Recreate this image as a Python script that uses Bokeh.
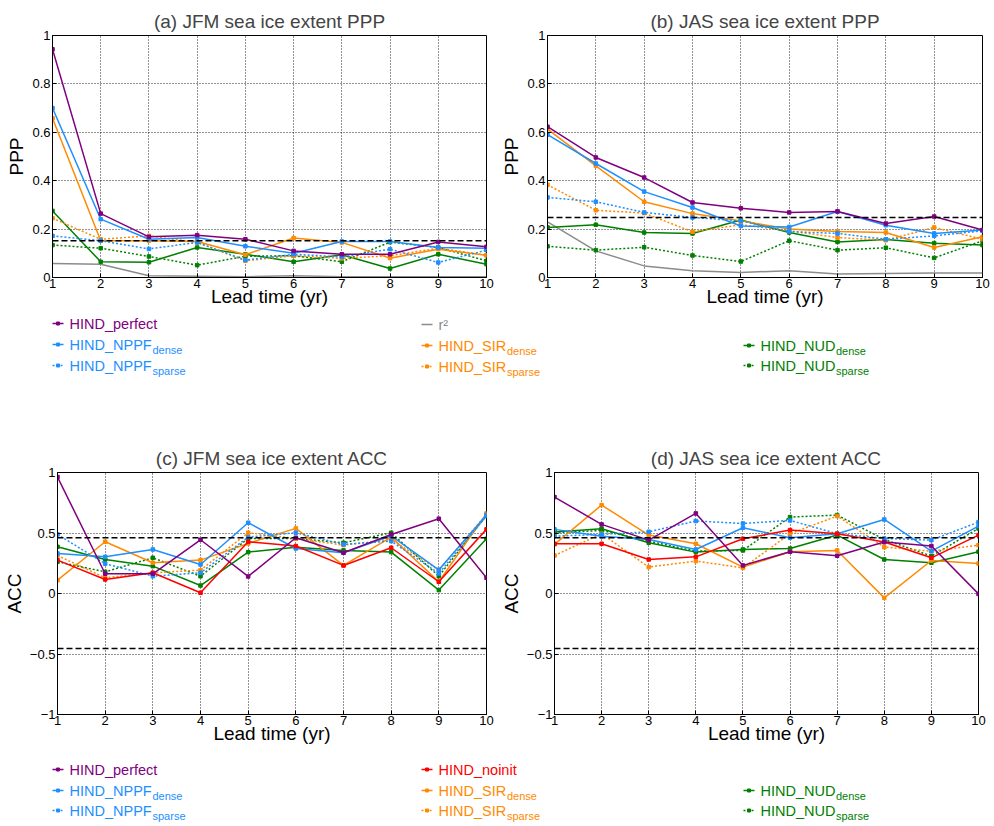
from bokeh.plotting import figure
from bokeh.layouts import column, row
from bokeh.models import Range1d, FixedTicker, Span
from bokeh.embed import file_html
from bokeh.resources import INLINE

FONT = "Liberation Sans"

lead = [1, 2, 3, 4, 5, 6, 7, 8, 9, 10]
x_ticks = [1, 2, 3, 4, 5, 6, 7, 8, 9, 10]
ppp_ticks = [0, 0.2, 0.4, 0.6, 0.8, 1]
ppp_tick_labels = {0: "0", 0.2: "0.2", 0.4: "0.4", 0.6: "0.6", 0.8: "0.8", 1: "1"}
acc_ticks = [-1, -0.5, 0, 0.5, 1]
acc_tick_labels = {-1: "\u22121", -0.5: "\u22120.5", 0: "0", 0.5: "0.5", 1: "1"}

# (a) JFM sea ice extent PPP
a_perfect = [0.943, 0.264, 0.168, 0.175, 0.158, 0.110, 0.096, 0.096, 0.147, 0.127]
a_nppf_dense = [0.700, 0.241, 0.158, 0.165, 0.129, 0.100, 0.149, 0.149, 0.124, 0.121]
a_nppf_sparse = [0.172, 0.152, 0.118, 0.145, 0.072, 0.096, 0.085, 0.117, 0.062, 0.113]
a_sir_dense = [0.658, 0.152, 0.152, 0.149, 0.094, 0.163, 0.145, 0.080, 0.117, 0.092]
a_sir_sparse = [0.245, 0.158, 0.172, 0.145, 0.069, 0.090, 0.079, 0.090, 0.121, 0.092]
a_nud_dense = [0.275, 0.065, 0.063, 0.124, 0.096, 0.065, 0.094, 0.037, 0.096, 0.055]
a_nud_sparse = [0.134, 0.121, 0.087, 0.051, 0.088, 0.090, 0.065, 0.146, 0.124, 0.069]
a_r2 = [0.058, 0.055, 0.007, 0.005, 0.003, 0.007, 0.003, 0.003, 0.003, 0.003]
a_thresh = [0.152]

# (b) JAS sea ice extent PPP
b_perfect = [0.623, 0.496, 0.413, 0.310, 0.286, 0.269, 0.273, 0.223, 0.252, 0.196]
b_nppf_dense = [0.590, 0.471, 0.355, 0.289, 0.213, 0.209, 0.273, 0.216, 0.182, 0.196]
b_nppf_sparse = [0.331, 0.313, 0.269, 0.248, 0.234, 0.190, 0.182, 0.158, 0.172, 0.193]
b_sir_dense = [0.613, 0.461, 0.313, 0.264, 0.234, 0.200, 0.190, 0.186, 0.124, 0.168]
b_sir_sparse = [0.383, 0.278, 0.266, 0.189, 0.218, 0.193, 0.165, 0.154, 0.207, 0.158]
b_nud_dense = [0.207, 0.218, 0.186, 0.182, 0.238, 0.186, 0.147, 0.157, 0.142, 0.134]
b_nud_sparse = [0.129, 0.113, 0.125, 0.091, 0.066, 0.152, 0.113, 0.123, 0.081, 0.152]
b_r2 = [0.230, 0.110, 0.048, 0.028, 0.021, 0.028, 0.014, 0.017, 0.019, 0.019]
b_thresh = [0.248]

# (c) JFM sea ice extent ACC
c_perfect = [0.963, 0.163, 0.163, 0.444, 0.141, 0.461, 0.337, 0.488, 0.618, 0.130]
c_nppf_dense = [0.331, 0.303, 0.364, 0.240, 0.585, 0.372, 0.337, 0.477, 0.196, 0.648]
c_nppf_sparse = [0.488, 0.246, 0.143, 0.171, 0.466, 0.502, 0.406, 0.433, 0.166, 0.640]
c_sir_dense = [0.110, 0.428, 0.254, 0.276, 0.414, 0.538, 0.232, 0.466, 0.097, 0.662]
c_sir_sparse = [0.314, 0.130, 0.171, 0.193, 0.502, 0.455, 0.400, 0.447, 0.193, 0.654]
c_nud_dense = [0.386, 0.281, 0.226, 0.066, 0.342, 0.383, 0.356, 0.342, 0.028, 0.452]
c_nud_sparse = [0.262, 0.179, 0.295, 0.143, 0.455, 0.455, 0.419, 0.502, 0.143, 0.645]
c_noinit = [0.276, 0.116, 0.171, 0.006, 0.428, 0.392, 0.232, 0.378, 0.097, 0.530]
c_thresh = [0.461, -0.455]

# (d) JAS sea ice extent ACC
d_perfect = [0.797, 0.571, 0.441, 0.662, 0.232, 0.345, 0.312, 0.425, 0.392, -0.003]
d_nppf_dense = [0.530, 0.474, 0.447, 0.364, 0.543, 0.461, 0.494, 0.612, 0.350, 0.557]
d_nppf_sparse = [0.474, 0.488, 0.510, 0.599, 0.579, 0.604, 0.494, 0.455, 0.441, 0.590]
d_sir_dense = [0.406, 0.731, 0.483, 0.411, 0.218, 0.345, 0.356, -0.036, 0.273, 0.248]
d_sir_sparse = [0.314, 0.494, 0.218, 0.268, 0.212, 0.494, 0.640, 0.383, 0.350, 0.400]
d_nud_dense = [0.508, 0.535, 0.419, 0.342, 0.364, 0.372, 0.483, 0.281, 0.254, 0.345]
d_nud_sparse = [0.502, 0.521, 0.433, 0.350, 0.356, 0.632, 0.648, 0.447, 0.309, 0.538]
d_noinit = [0.411, 0.411, 0.281, 0.303, 0.452, 0.524, 0.494, 0.425, 0.295, 0.483]
d_thresh = [0.461, -0.455]

PURPLE = "#800080"
BLUE = "#1E8FFF"
ORANGE = "#FF8A00"
GREEN = "#008000"
RED = "#FF0000"
GRAY = "#8C8C8C"

# style per series key: (color, dash, markers)
STYLE = {
    "r2": (GRAY, "solid", False),
    "nud_sparse": (GREEN, "2 2", True),
    "nud_dense": (GREEN, "solid", True),
    "sir_sparse": (ORANGE, "2 2", True),
    "sir_dense": (ORANGE, "solid", True),
    "nppf_sparse": (BLUE, "2 2", True),
    "nppf_dense": (BLUE, "solid", True),
    "noinit": (RED, "solid", True),
    "perfect": (PURPLE, "solid", True),
}


def panel(title, ylabel, yr, yticks, ylabels, series, thresholds, w, h, bl, br, bt, bb):
    p = figure(width=w, height=h, x_range=Range1d(1, 10), y_range=Range1d(*yr),
               output_backend="svg", toolbar_location=None,
               min_border_left=bl, min_border_right=br, min_border_top=bt, min_border_bottom=bb)
    p.title.text = title
    p.title.align = "center"
    p.title.text_font = FONT
    p.title.text_font_size = "19px"
    p.title.text_font_style = "normal"
    p.title.standoff = 7
    p.outline_line_color = "black"
    p.outline_line_width = 1
    p.outline_line_alpha = 1
    p.background_fill_color = "white"
    p.border_fill_color = "white"
    for ax in (p.xaxis[0], p.yaxis[0]):
        ax.axis_line_color = "black"
        ax.major_tick_in = 4
        ax.major_tick_out = 0
        ax.minor_tick_line_color = None
        ax.major_label_text_font = FONT
        ax.major_label_text_font_size = "13px"
        ax.major_label_text_color = "black"
        ax.axis_label_text_font = FONT
        ax.axis_label_text_font_size = "19px"
        ax.axis_label_text_font_style = "normal"
        ax.axis_label_text_color = "black"
        ax.major_label_standoff = 2
        ax.axis_label_standoff = 2
    p.xaxis.major_label_standoff = 1
    p.xaxis.axis_label_standoff = -5
    p.xaxis.ticker = FixedTicker(ticks=x_ticks)
    p.yaxis.ticker = FixedTicker(ticks=yticks)
    p.yaxis.major_label_overrides = ylabels
    p.xaxis.axis_label = "Lead time (yr)"
    p.yaxis.axis_label = ylabel
    p.grid.grid_line_color = "black"
    p.grid.grid_line_alpha = 0.85
    p.grid.grid_line_dash = "1 2"
    p.grid.grid_line_width = 1
    for t in thresholds:
        p.add_layout(Span(location=t, dimension="width", line_color="black",
                          line_dash="6 3", line_width=1.6))
    for key in STYLE:
        if key not in series:
            continue
        color, dash, mk = STYLE[key]
        vals = series[key]
        p.line(lead, vals, line_color=color, line_dash=dash, line_width=1.5)
        if mk:
            p.scatter(lead, vals, marker="square", size=3.5, color=color)
    return p


pa = panel("(a) JFM sea ice extent PPP", "PPP", (0, 1), ppp_ticks, ppp_tick_labels,
           {"perfect": a_perfect, "nppf_dense": a_nppf_dense, "nppf_sparse": a_nppf_sparse,
            "sir_dense": a_sir_dense, "sir_sparse": a_sir_sparse, "nud_dense": a_nud_dense,
            "nud_sparse": a_nud_sparse, "r2": a_r2}, a_thresh,
           497, 310, 52, 11, 35, 33)
pb = panel("(b) JAS sea ice extent PPP", "PPP", (0, 1), ppp_ticks, ppp_tick_labels,
           {"perfect": b_perfect, "nppf_dense": b_nppf_dense, "nppf_sparse": b_nppf_sparse,
            "sir_dense": b_sir_dense, "sir_sparse": b_sir_sparse, "nud_dense": b_nud_dense,
            "nud_sparse": b_nud_sparse, "r2": b_r2}, b_thresh,
           497, 310, 50, 12, 35, 33)
pc = panel("(c) JFM sea ice extent ACC", "ACC", (-1, 1), acc_ticks, acc_tick_labels,
           {"perfect": c_perfect, "nppf_dense": c_nppf_dense, "nppf_sparse": c_nppf_sparse,
            "sir_dense": c_sir_dense, "sir_sparse": c_sir_sparse, "nud_dense": c_nud_dense,
            "nud_sparse": c_nud_sparse, "noinit": c_noinit}, c_thresh,
           497, 310, 52, 11, 32, 36)
pd_ = panel("(d) JAS sea ice extent ACC", "ACC", (-1, 1), acc_ticks, acc_tick_labels,
            {"perfect": d_perfect, "nppf_dense": d_nppf_dense, "nppf_sparse": d_nppf_sparse,
             "sir_dense": d_sir_dense, "sir_sparse": d_sir_sparse, "nud_dense": d_nud_dense,
             "nud_sparse": d_nud_sparse, "noinit": d_noinit}, d_thresh,
            497, 310, 48, 16, 32, 36)

# legend entries: (key, main text, subscript, column x, row y)
legend_top = [
    ("perfect", "HIND_perfect", "", 52, 13),
    ("nppf_dense", "HIND_NPPF", "dense", 52, 34),
    ("nppf_sparse", "HIND_NPPF", "sparse", 52, 55),
    ("r2", "r\u00b2", "", 421, 14),
    ("sir_dense", "HIND_SIR", "dense", 421, 35),
    ("sir_sparse", "HIND_SIR", "sparse", 421, 56),
    ("nud_dense", "HIND_NUD", "dense", 743, 35),
    ("nud_sparse", "HIND_NUD", "sparse", 743, 55),
]
legend_bottom = [
    ("perfect", "HIND_perfect", "", 52, 19),
    ("nppf_dense", "HIND_NPPF", "dense", 52, 40),
    ("nppf_sparse", "HIND_NPPF", "sparse", 52, 60),
    ("noinit", "HIND_noinit", "", 421, 19),
    ("sir_dense", "HIND_SIR", "dense", 421, 40),
    ("sir_sparse", "HIND_SIR", "sparse", 421, 60),
    ("nud_dense", "HIND_NUD", "dense", 743, 40),
    ("nud_sparse", "HIND_NUD", "sparse", 743, 60),
]
MAIN_WIDTH = {"HIND_NPPF": 82.5, "HIND_SIR": 68, "HIND_NUD": 75}


def legend_fig(entries, h):
    p = figure(width=994, height=h, x_range=Range1d(0, 994), y_range=Range1d(h, 0),
               output_backend="svg", toolbar_location=None, min_border=0)
    p.axis.visible = False
    p.grid.visible = False
    p.outline_line_color = None
    for key, main, sub, x0, y in entries:
        color, dash, mk = STYLE[key]
        p.line([x0, x0 + 11], [y, y], line_color=color, line_dash=dash, line_width=1.5)
        if mk:
            p.scatter([x0 + 5.5], [y], marker="square", size=3, color=color)
        tx = x0 + 17
        p.text([tx], [y], text=[main], text_color=color, text_font_size="14.5px",
               text_baseline="middle", text_align="left", text_font={"value": FONT})
        if sub:
            p.text([tx + MAIN_WIDTH[main] + 0.5], [y + 5], text=[sub], text_color=color,
                   text_font_size="11px", text_baseline="middle", text_align="left",
                   text_font={"value": FONT})
    return p


leg1 = legend_fig(legend_top, 130)
leg2 = legend_fig(legend_bottom, 76)

layout = column(row(pa, pb, spacing=0), leg1, row(pc, pd_, spacing=0), leg2, spacing=0)

with open("out.html", "w") as f:
    f.write(file_html(layout, INLINE, title="sea ice extent"))
